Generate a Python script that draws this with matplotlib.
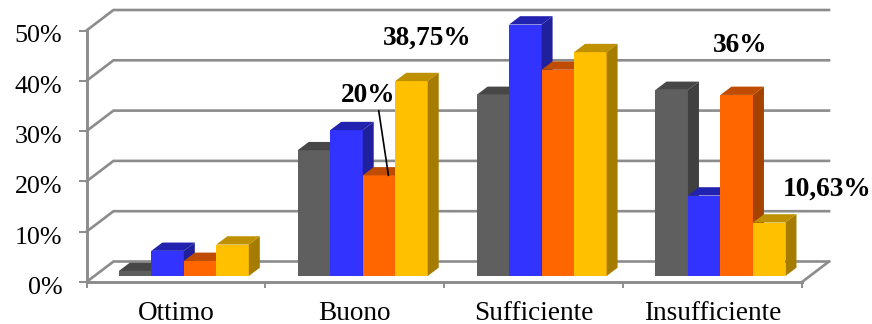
import matplotlib
matplotlib.use("Agg")
import matplotlib.pyplot as plt
from matplotlib.patches import Polygon
from matplotlib.transforms import ScaledTranslation

categories = ["Ottimo", "Buono", "Sufficiente", "Insufficiente"]
series_grey = [1, 25, 36, 37]
series_blue = [5, 29, 50, 16]
series_orange = [3, 20, 41, 36]
series_yellow = [6.25, 38.75, 44.5, 10.63]
y_ticks = [0, 10, 20, 30, 40, 50]
y_tick_labels = ["0%", "10%", "20%", "30%", "40%", "50%"]

W, H = 872, 324
plt.rcParams["font.family"] = ["Liberation Serif", "DejaVu Serif"]
fig = plt.figure(figsize=(W / 100, H / 100), dpi=100)

# Axes box is the front plane of the pseudo-3D chart
left, right, bottom, top = 86.5, 802.0, 282.0, 30.5
ax = fig.add_axes([left / W, 1 - bottom / H, (right - left) / W, (bottom - top) / H])
ax.set_xlim(0, 4)
ax.set_ylim(0, 50)
ax.patch.set_visible(False)
px_x = (right - left) / 4
px_y = (bottom - top) / 50

GRID = "#8c8c8c"
LW = 1.9

# Floor and wall depth, in data units
wall_dx, wall_dy = 27 / px_x, 20.5 / px_y
for t in y_ticks:
    ax.plot([0, wall_dx, 4 + wall_dx], [t, t + wall_dy, t + wall_dy],
            color=GRID, lw=LW, clip_on=False, zorder=1, solid_joinstyle="miter")
ax.plot([4, 4 + wall_dx], [0, wall_dy], color=GRID, lw=LW, clip_on=False, zorder=1)

for side in ("top", "right"):
    ax.spines[side].set_visible(False)
for side in ("left", "bottom"):
    ax.spines[side].set_color(GRID)
    ax.spines[side].set_linewidth(LW + 0.2)

ax.set_yticks(y_ticks, y_tick_labels, fontsize=18.7)
ax.tick_params(axis="y", length=5.5, width=1.4, color=GRID, pad=12)
# Nudge the percent labels a little below their ticks
nudge = ScaledTranslation(0, -3.5 / 100, fig.dpi_scale_trans)
for lab in ax.get_yticklabels():
    lab.set_transform(lab.get_transform() + nudge)
ax.set_xticks([0, 1, 2, 3, 4], [""] * 5)
ax.set_xticks([0.5, 1.5, 2.5, 3.5], categories, minor=True, fontsize=19.6)
ax.tick_params(axis="x", which="major", length=4.5, width=1.4, color=GRID)
ax.tick_params(axis="x", which="minor", length=0, pad=13.5)

# Bars: front face from ax.bar, top and side faces as parallelograms
bar_w = 32.5 / px_x
front_dx, front_dy = 7.9 / px_x, 6.0 / px_y
bar_dx, bar_dy = 11.0 / px_x, 8.3 / px_y
styles = [
    (series_grey, "#5f5f5f", "#474747", "#404040"),
    (series_blue, "#3333ff", "#2222b0", "#20209c"),
    (series_orange, "#ff6600", "#bf4c00", "#a64200"),
    (series_yellow, "#ffc000", "#bf9000", "#a67c00"),
]
z = 2
for c in range(len(categories)):
    for s, (vals, front, top_c, side_c) in enumerate(styles):
        x0 = c + 0.5 - 2 * bar_w + front_dx + s * bar_w
        v = vals[c]
        y1 = v + front_dy
        ax.bar(x0, v, bar_w, bottom=front_dy, align="edge", color=front,
               linewidth=0, clip_on=False, zorder=z)
        ax.add_patch(Polygon([(x0, y1), (x0 + bar_dx, y1 + bar_dy),
                              (x0 + bar_w + bar_dx, y1 + bar_dy), (x0 + bar_w, y1)],
                             closed=True, fc=top_c, ec="none", clip_on=False, zorder=z))
        ax.add_patch(Polygon([(x0 + bar_w, y1), (x0 + bar_w + bar_dx, y1 + bar_dy),
                              (x0 + bar_w + bar_dx, front_dy + bar_dy), (x0 + bar_w, front_dy)],
                             closed=True, fc=side_c, ec="none", clip_on=False, zorder=z))
        z += 1


def bar_top(c, s):
    x0 = c + 0.5 - 2 * bar_w + front_dx + s * bar_w
    return x0 + bar_w / 2, styles[s][0][c] + front_dy


label_kw = dict(fontsize=19.7, fontweight="bold", ha="center", va="center",
                textcoords="offset pixels", annotation_clip=False, zorder=100)

ax.annotate("38,75%", bar_top(1, 3), xytext=(16, 42.5), **label_kw)
ax.annotate("36%", bar_top(3, 2), xytext=(3.5, 49), **label_kw)
ax.annotate("10,63%", bar_top(3, 3), xytext=(58, 33), **label_kw)

# The 20% label sits above its bar and is tied to it by a leader line
tx, ty = bar_top(1, 2)
ax.annotate("20%", (tx + 9.5 / px_x, ty), xytext=(-20, 80),
            arrowprops=dict(arrowstyle="-", color="black", lw=1.2,
                            relpos=(0.68, 0.0), shrinkA=0, shrinkB=0),
            **label_kw)

fig.savefig("out.png", dpi=100)
